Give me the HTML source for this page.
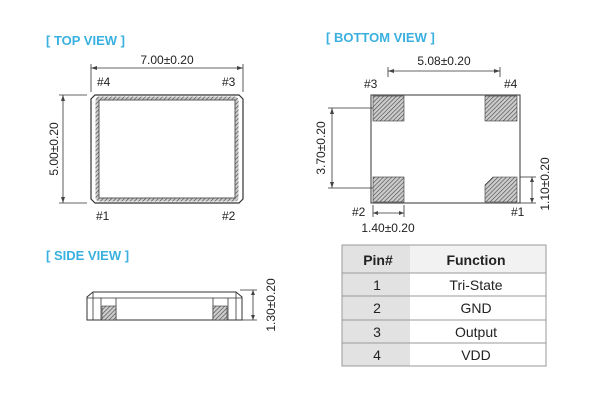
<!DOCTYPE html>
<html><head><style>body{margin:0;background:#fff}svg{display:block}text{font-family:"Liberation Sans",sans-serif;fill:#222}</style></head><body>
<svg width="600" height="411" viewBox="0 0 600 411" xmlns="http://www.w3.org/2000/svg">
<defs><pattern id="h" width="3" height="3" patternUnits="userSpaceOnUse" patternTransform="rotate(45)"><rect width="3" height="3" fill="#ccc"/><line x1="0" y1="0" x2="0" y2="3" stroke="#444" stroke-width="1.2"/></pattern></defs>
<g font-size="13" font-weight="bold"><text x="46" y="45" style="fill:#3ab0e0">[ TOP VIEW ]</text><text x="326" y="42" style="fill:#3ab0e0">[ BOTTOM  VIEW ]</text><text x="46" y="260" style="fill:#3ab0e0">[ SIDE  VIEW ]</text></g>
<g stroke="#333" stroke-width="0.8" fill="none">
<!-- top view -->
<line x1="91" y1="68" x2="243" y2="68"/><line x1="91" y1="64" x2="91" y2="92"/><line x1="243" y1="64" x2="243" y2="92"/>
<line x1="63" y1="95" x2="63" y2="203"/><line x1="59" y1="95" x2="87" y2="95"/><line x1="59" y1="203" x2="87" y2="203"/>
<path d="M95 95H239L243 99V199L239 203H95L91 199V99Z" stroke-width="1.2"/>
<path d="M97 101Q97 98 100 98H234Q237 98 237 101V197Q237 200 234 200H100Q97 200 97 197Z" stroke="url(#h)" stroke-width="3"/>
<rect x="99" y="100" width="136" height="98" stroke="#333"/>
<!-- bottom view -->
<line x1="388" y1="71" x2="500" y2="71"/><line x1="388" y1="67" x2="388" y2="77"/><line x1="500" y1="67" x2="500" y2="77"/>
<rect x="371" y="95" width="149" height="108" stroke-width="1"/>
<line x1="332" y1="108" x2="332" y2="188"/><line x1="328" y1="108" x2="373" y2="108"/><line x1="328" y1="188" x2="373" y2="188"/>
<line x1="532" y1="177" x2="532" y2="203"/><line x1="520" y1="177" x2="536" y2="177"/><line x1="520" y1="203" x2="536" y2="203"/>
<line x1="373" y1="213" x2="404" y2="213"/><line x1="373" y1="205" x2="373" y2="217"/><line x1="404" y1="205" x2="404" y2="217"/>
<!-- side view -->
<path d="M87 320V297L93 292H236L242 297V320Z" stroke-width="1"/>
<line x1="87" y1="298" x2="242" y2="298"/><line x1="93" y1="292" x2="93" y2="320"/><line x1="236" y1="292" x2="236" y2="320"/>
<line x1="101" y1="298" x2="101" y2="320"/><line x1="116" y1="298" x2="116" y2="320"/><line x1="213" y1="298" x2="213" y2="320"/><line x1="228" y1="298" x2="228" y2="320"/>
<line x1="253" y1="290" x2="253" y2="320"/><line x1="240" y1="290" x2="257" y2="290"/><line x1="240" y1="320" x2="257" y2="320"/>
</g>
<g fill="url(#h)" stroke="#333" stroke-width="0.6">
<rect x="373" y="96" width="31" height="25"/><rect x="485" y="96" width="32" height="25"/><rect x="373" y="177" width="31" height="25"/>
<path d="M493 177H517V202H485V185Z"/>
<rect x="102" y="306" width="14" height="14"/><rect x="213" y="306" width="14" height="14"/>
</g>
<g fill="#444"><path d="M91 68l6-2v4z"/><path d="M243 68l-6-2v4z"/><path d="M63 95l-2 6h4z"/><path d="M63 203l-2-6h4z"/>
<path d="M388 71l6-2v4z"/><path d="M500 71l-6-2v4z"/><path d="M332 108l-2 6h4z"/><path d="M332 188l-2-6h4z"/>
<path d="M532 177l-2 5h4z"/><path d="M532 203l-2-5h4z"/><path d="M373 213l5-2v4z"/><path d="M404 213l-5-2v4z"/>
<path d="M253 290l-2 5h4z"/><path d="M253 320l-2-5h4z"/></g>
<g font-size="12">
<text x="167" y="64" text-anchor="middle">7.00±0.20</text>
<text x="97" y="86">#4</text><text x="222" y="86">#3</text><text x="96" y="220">#1</text><text x="222" y="220">#2</text>
<text transform="translate(58 149) rotate(-90)" text-anchor="middle">5.00±0.20</text>
<text x="444" y="65" text-anchor="middle">5.08±0.20</text>
<text x="364" y="88">#3</text><text x="504" y="88">#4</text><text x="352" y="216">#2</text><text x="511" y="216">#1</text>
<text transform="translate(325 148) rotate(-90)" text-anchor="middle">3.70±0.20</text>
<text transform="translate(549 184) rotate(-90)" text-anchor="middle">1.10±0.20</text>
<text x="388" y="232" text-anchor="middle">1.40±0.20</text>
<text transform="translate(275 305) rotate(-90)" text-anchor="middle">1.30±0.20</text>
</g>
<!-- table -->
<rect x="342" y="245" width="68" height="121" fill="#e2e2e2"/>
<rect x="410" y="245" width="136" height="28" fill="#f2f2f2"/>
<g stroke="#999" stroke-width="1" fill="none"><rect x="342" y="245" width="204" height="121"/>
<line x1="342" y1="273" x2="546" y2="273"/><line x1="342" y1="296" x2="546" y2="296"/><line x1="342" y1="320" x2="546" y2="320"/><line x1="342" y1="343" x2="546" y2="343"/></g>
<g font-size="14" text-anchor="middle">
<text x="378" y="265" font-weight="bold">Pin#</text><text x="476" y="265" font-weight="bold">Function</text>
<text x="377" y="290">1</text><text x="476" y="290">Tri-State</text>
<text x="377" y="313">2</text><text x="476" y="313">GND</text>
<text x="377" y="337">3</text><text x="476" y="337">Output</text>
<text x="377" y="360">4</text><text x="476" y="360">VDD</text>
</g>
</svg>
</body></html>
